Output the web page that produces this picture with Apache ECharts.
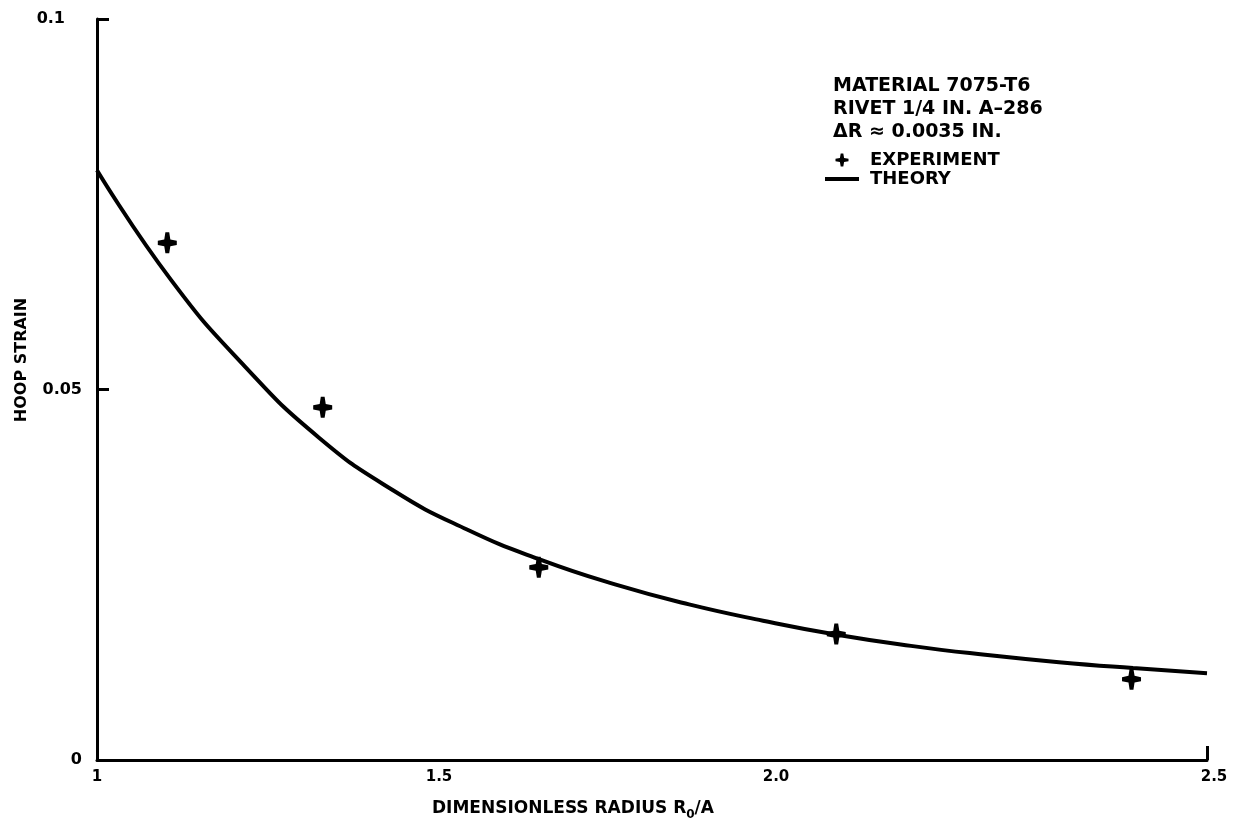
<!DOCTYPE html>
<html>
<head>
<meta charset="utf-8">
<script src="https://cdn.jsdelivr.net/npm/echarts@6/dist/echarts.min.js"></script>
<style>html,body{margin:0;padding:0;background:#fff}#c{width:1234px;height:838px}</style>
</head>
<body>
<div id="c"></div>
<script>
// ---- data ----
const experimentX = [1.095, 1.305, 1.597, 1.999, 2.398];
const experimentY = [0.0698, 0.0476, 0.0260, 0.0170, 0.0109];
const theoryX = [1.0, 1.1, 1.2, 1.3, 1.4, 1.5, 1.6, 1.7, 1.8, 1.9, 2.0, 2.1, 2.2, 2.3, 2.4, 2.5];
const theoryY = [0.0796, 0.0648, 0.0531, 0.0435, 0.0364, 0.0311, 0.0270, 0.0237, 0.0210, 0.0188, 0.0169, 0.0154, 0.0142, 0.0132, 0.0124, 0.0117];
const xTickValues = [1, 1.5, 2.0, 2.5];
const xTickLabels = ['1', '1.5', '2.0', '2.5'];
const yTickValues = [0, 0.05, 0.1];
const yTickLabels = ['0', '0.05', '0.1'];
const infoLines = ['MATERIAL 7075-T6', 'RIVET 1/4 IN. A\u2013286', '\u0394R \u2248 0.0035 IN.'];

const FONT = '"DejaVu Sans", "Liberation Sans", Arial, sans-serif';
const plusPath = 'path://M40,0 L60,0 L66,34 L100,40 L100,60 L66,66 L60,100 L40,100 L34,66 L0,60 L0,40 L34,34 Z';
const linePath = 'path://M0,0 L100,0 L100,12 L0,12 Z';

// label placement nudges (style only)
const xLabelRich = {
  p0: {padding: [0, 0, 0, 0]},
  p1: {padding: [0, 56, 0, 0]},
  p2: {padding: [0, 122, 0, 0]},
  p3: {padding: [0, 0, 0, 14]}
};
const yLabelRich = {
  q0: {padding: [0, 0, 0, 0]},
  q1: {padding: [0, 0, 0, 0]},
  q2: {padding: [0, 17, 0, 0]}
};
Object.values(xLabelRich).forEach(s => { s.fontSize = 15; s.fontWeight = 'bold'; s.color = '#000'; s.fontFamily = FONT; });
Object.values(yLabelRich).forEach(s => { s.fontSize = 16; s.fontWeight = 'bold'; s.color = '#000'; s.fontFamily = FONT; });

const chart = echarts.init(document.getElementById('c'), null, {renderer: 'canvas'});
chart.setOption({
  backgroundColor: '#fff',
  animation: false,
  grid: {left: 97, right: 27, top: 19, bottom: 78, containLabel: false},
  xAxis: {
    type: 'value', min: 1, max: 2.5, interval: 0.5,
    axisLine: {show: true, onZero: false, lineStyle: {color: '#000', width: 3}},
    axisTick: {show: true, inside: true, length: 14, lineStyle: {color: '#000', width: 3}, customValues: [2.5]},
    splitLine: {show: false},
    axisLabel: {
      margin: 10, customValues: xTickValues, fontSize: 15, fontWeight: 'bold', color: '#000', fontFamily: FONT,
      formatter: (v) => { const i = xTickValues.findIndex(t => Math.abs(t - v) < 1e-9); return i < 0 ? '' : '{p' + i + '|' + xTickLabels[i] + '}'; },
      rich: xLabelRich
    }
  },
  yAxis: {
    type: 'value', min: 0, max: 0.1, interval: 0.05,
    axisLine: {show: true, onZero: false, lineStyle: {color: '#000', width: 3}},
    axisTick: {show: true, inside: true, length: 12, lineStyle: {color: '#000', width: 3}},
    splitLine: {show: false},
    axisLabel: {
      margin: 15, fontSize: 16, fontWeight: 'bold', color: '#000', fontFamily: FONT,
      formatter: (v) => { const i = yTickValues.findIndex(t => Math.abs(t - v) < 1e-9); return i < 0 ? '' : '{q' + i + '|' + yTickLabels[i] + '}'; },
      rich: yLabelRich
    }
  },
  legend: {
    orient: 'vertical', left: 820, top: 146,
    itemWidth: 34, itemHeight: 13, itemGap: 1,
    textStyle: {fontFamily: FONT, fontSize: 18, fontWeight: 'bold', color: '#000', padding: [0, 0, 0, 6]},
    data: [
      {name: 'EXPERIMENT', icon: plusPath},
      {name: 'THEORY', icon: linePath, itemStyle: {color: '#000', borderWidth: 0}}
    ]
  },
  graphic: [
    {type: 'text', left: 833, top: 75, style: {text: infoLines.join('\n'), fontFamily: FONT, fontSize: 19, fontWeight: 'bold', fill: '#000', lineHeight: 23}},
    {type: 'text', x: 22, y: 360, rotation: Math.PI / 2, style: {text: 'HOOP STRAIN', fontFamily: FONT, fontSize: 16, fontWeight: 'bold', fill: '#000', align: 'center', verticalAlign: 'middle'}},
    {type: 'text', left: 432, top: 800, style: {
      text: '{a|DIMENSIONLESS RADIUS R}{s|0}{a|/A}',
      rich: {
        a: {fontFamily: FONT, fontSize: 17, fontWeight: 'bold', fill: '#000', verticalAlign: 'top'},
        s: {fontFamily: FONT, fontSize: 12, fontWeight: 'bold', fill: '#000', padding: [9, 0, 0, 0]}
      }
    }}
  ],
  series: [
    {
      name: 'THEORY', type: 'line', smooth: true, symbol: 'none', symbolKeepAspect: true,
      lineStyle: {color: '#000', width: 4}, itemStyle: {color: '#000'},
      data: theoryX.map((x, i) => [x, theoryY[i]]), z: 2
    },
    {
      name: 'EXPERIMENT', type: 'scatter', symbol: plusPath, symbolSize: [19, 21], symbolKeepAspect: false,
      itemStyle: {color: '#000', opacity: 1},
      data: experimentX.map((x, i) => [x, experimentY[i]]), z: 3
    }
  ]
});
</script>
</body>
</html>
